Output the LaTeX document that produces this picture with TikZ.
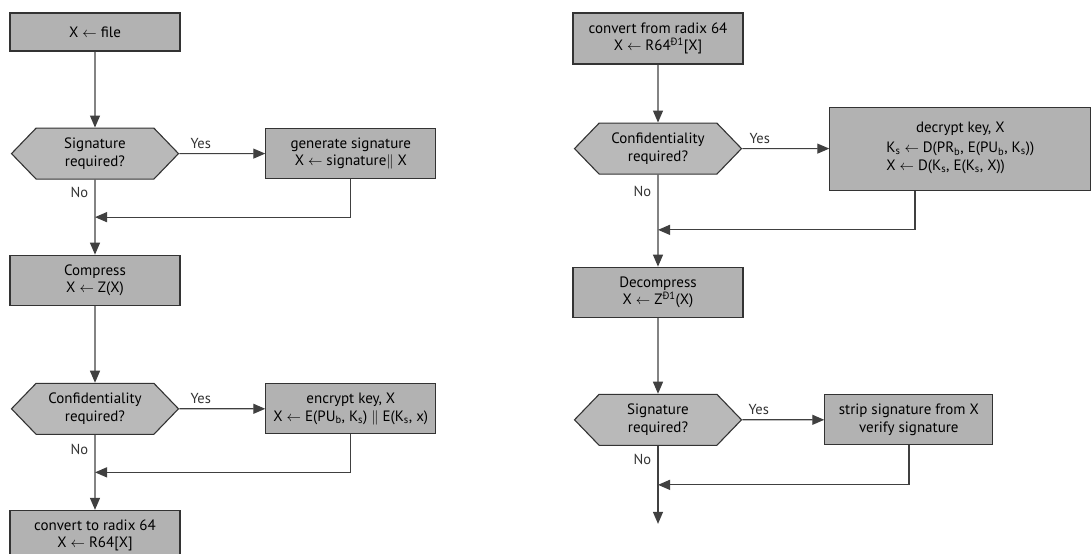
\documentclass[tikz,border=0pt]{standalone}
\usepackage{fontspec}
\setmainfont{PT Sans}
\usetikzlibrary{arrows.meta, positioning, calc, shapes.symbols}

\begin{document}
\begin{tikzpicture}[
                x=1pt, y=-1pt,
                font=\fontsize{15}{17.5}\selectfont,
                >={Triangle[length=12pt, width=10pt]},
                node distance=75pt and 86pt,
                proc/.style={
                        draw=black!80, line width=1.1pt,
                        fill=gray!60,
                        minimum width=170pt, minimum height=50pt,
                        inner sep=1pt, align=center
                    },
                test/.style={
                        signal, signal from=nowhere, signal to=west and east,
                        signal pointer angle=92,
                        draw=black!80, line width=1.1pt,
                        fill=gray!55,
                        minimum width=167pt, minimum height=51pt,
                        inner sep=1pt, align=center
                    },
                arr/.style={->, line width=1.2pt, black!75},
                lbl/.style={font=\fontsize{14.5}{16}\selectfont, text=black!80},
                ]
                \useasboundingbox (0,0) rectangle (1092,554);

                % sending side
                \node[proc, minimum height=38pt] (file) at (95,32) {X $\leftarrow$ file};
                \node[test, below=76pt of file] (sig) {Signature\\required?};
                \node[proc, right=86pt of sig] (gen) {generate signature\\X $\leftarrow$ signature$\|$ X};
                \node[proc, below=75pt of sig] (comp) {Compress\\X $\leftarrow$ Z(X)};
                \node[test, below=77pt of comp] (conf) {Confidentiality\\required?};
                \node[proc, right=86pt of conf] (enc) {encrypt key, X\\X $\leftarrow$ E(PU\textsubscript{b}, K\textsubscript{s}) $\|$ E(K\textsubscript{s}, x)};
                \node[proc, below=75pt of conf] (radix) {convert to radix 64\\X $\leftarrow$ R64[X]};

                \coordinate (j1) at ($(sig.south)!0.5!(comp.north)$);
                \coordinate (j2) at ($(conf.south)!0.5!(radix.north)$);

                \draw[arr] (file) -- (sig);
                \draw[arr] (sig) -- node[lbl, above=1pt, pos=0.25] {Yes} (gen);
                \draw[arr] (sig) -- node[lbl, left=3pt, pos=0.17] {No} (comp);
                \draw[arr] (gen.south) |- (j1);
                \draw[arr] (comp) -- (conf);
                \draw[arr] (conf) -- node[lbl, above=1pt, pos=0.25] {Yes} (enc);
                \draw[arr] (conf) -- node[lbl, left=3pt, pos=0.2] {No} (radix);
                \draw[arr] (enc.south) |- (j2);

                % receiving side
                \node[proc, minimum height=51pt] (unradix) at (658,38.5) {convert from radix 64\\X $\leftarrow$ R64\textsuperscript{Ð1}[X]};
                \node[test, below=58pt of unradix] (conf2) {Confidentiality\\required?};
                \node[proc, right=87pt of conf2, minimum width=261pt, minimum height=83pt] (dec) {decrypt key, X\\[4pt]
                        \begin{tabular}{@{}l@{}}
                        K\textsubscript{s} $\leftarrow$ D(PR\textsubscript{b}, E(PU\textsubscript{b}, K\textsubscript{s}))\\
                        X $\leftarrow$ D(K\textsubscript{s}, E(K\textsubscript{s}, X))
                        \end{tabular}};
                \node[proc, below=92pt of conf2] (decomp) {Decompress\\X $\leftarrow$ Z\textsuperscript{Ð1}(X)};
                \node[test, below=76pt of decomp] (sig2) {Signature\\required?};
                \node[proc, right=82pt of sig2, minimum width=168pt] (strip) {strip signature from X\\verify signature};
                \coordinate[below=78pt of sig2.south] (out);

                \coordinate (j3) at ($(conf2.south)!0.6!(decomp.north)$);
                \coordinate (j4) at ($(sig2.south)!0.5!(out)$);

                \draw[arr] (unradix) -- (conf2);
                \draw[arr] (conf2) -- node[lbl, above=1pt, pos=0.2] {Yes} (dec);
                \draw[arr] (conf2) -- node[lbl, left=3pt, pos=0.18] {No} (decomp);
                \draw[arr] (dec.south -| 915,0) |- (j3);
                \draw[arr] (decomp) -- (sig2);
                \draw[arr] (sig2) -- node[lbl, above=1pt, pos=0.2] {Yes} (strip);
                \draw[arr] (sig2.south) -- node[lbl, left=3pt, pos=0.18] {No} (out);
                \draw[arr] (strip.south -| 909,0) |- (j4);
            \end{tikzpicture}
\end{document}
